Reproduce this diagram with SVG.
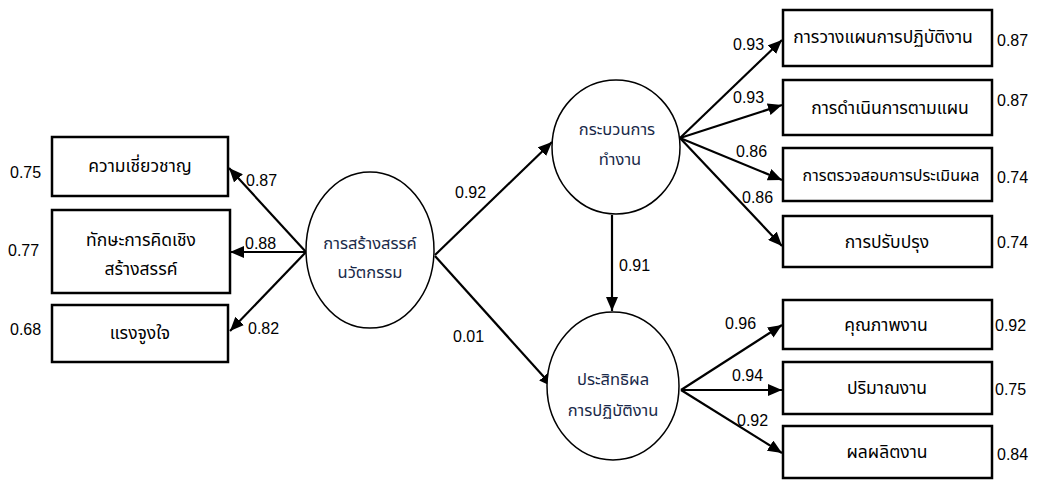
<svg xmlns="http://www.w3.org/2000/svg" width="1037" height="481" viewBox="0 0 1037 481">
<defs>
<marker id="ah" markerWidth="14" markerHeight="12" refX="14" refY="6" orient="auto" markerUnits="userSpaceOnUse"><path d="M0,0 L14,6 L0,12 Z" fill="#000"/></marker>
<style>
.box{fill:#fff;stroke:#000;stroke-width:2.5}
.ell{fill:#fff;stroke:#000;stroke-width:1.5}
.ln{stroke:#000;stroke-width:2.2;fill:none;marker-end:url(#ah)}
.th{font-family:Tahoma,"Noto Sans","Noto Sans Thai","DejaVu Sans",sans-serif;font-size:17.5px;fill:#000;text-anchor:middle}
.thb{font-family:Tahoma,"Noto Sans","Noto Sans Thai","DejaVu Sans",sans-serif;font-size:16.5px;fill:#1a2a4a;text-anchor:middle}
.num{font-family:"Liberation Sans",Arial,sans-serif;font-size:16px;fill:#000}
</style>
</defs>
<rect width="1037" height="481" fill="#fff"/>
<g id="connectors">
<line class="ln" x1="306" y1="252" x2="229" y2="168"/>
<line class="ln" x1="306" y1="252" x2="230" y2="252"/>
<line class="ln" x1="306" y1="252" x2="230" y2="331"/>
<line class="ln" x1="435" y1="255" x2="552" y2="142"/>
<line class="ln" x1="435" y1="256" x2="553" y2="387"/>
<line class="ln" x1="612" y1="215" x2="612" y2="311"/>
<line class="ln" x1="680" y1="138" x2="782" y2="40"/>
<line class="ln" x1="680" y1="138" x2="782" y2="105"/>
<line class="ln" x1="680" y1="138" x2="782" y2="180"/>
<line class="ln" x1="680" y1="138" x2="782" y2="246"/>
<line class="ln" x1="681" y1="390" x2="782" y2="325"/>
<line class="ln" x1="681" y1="390" x2="782" y2="390"/>
<line class="ln" x1="681" y1="390" x2="782" y2="453"/>
</g>
<g id="n_expert"><rect class="box" x="52" y="137" width="176" height="59"/><text class="th" x="140" y="172">ความเชี่ยวชาญ</text></g>
<g id="n_skill"><rect class="box" x="52" y="210" width="178" height="83"/><text class="th" x="141" y="246">ทักษะการคิดเชิง</text><text class="th" x="141" y="275">สร้างสรรค์</text></g>
<g id="n_motiv"><rect class="box" x="52" y="305" width="176" height="57"/><text class="th" x="140" y="339">แรงจูงใจ</text></g>
<g id="n_innov"><ellipse class="ell" cx="370" cy="250" rx="64" ry="78"/><text class="thb" x="370" y="249">การสร้างสรรค์</text><text class="thb" x="370" y="278">นวัตกรรม</text></g>
<g id="n_process"><ellipse class="ell" cx="616" cy="147" rx="64" ry="67"/><text class="thb" x="617" y="135">กระบวนการ</text><text class="thb" x="620" y="165">ทำงาน</text></g>
<g id="n_perf"><ellipse class="ell" cx="613" cy="386" rx="66" ry="74"/><text class="thb" x="613" y="385">ประสิทธิผล</text><text class="thb" x="613" y="416">การปฏิบัติงาน</text></g>
<g id="n_plan"><rect class="box" x="783" y="10" width="209" height="56"/><text class="th" x="883" y="43">การวางแผนการปฏิบัติงาน</text></g>
<g id="n_do"><rect class="box" x="783" y="80" width="209" height="55"/><text class="th" x="890" y="114">การดำเนินการตามแผน</text></g>
<g id="n_check"><rect class="box" x="783" y="148" width="209" height="53"/><text class="th" x="891" y="181" style="font-size:16px">การตรวจสอบการประเมินผล</text></g>
<g id="n_improve"><rect class="box" x="783" y="216" width="209" height="51"/><text class="th" x="887" y="248">การปรับปรุง</text></g>
<g id="n_quality"><rect class="box" x="783" y="300" width="209" height="49"/><text class="th" x="886" y="331">คุณภาพงาน</text></g>
<g id="n_quantity"><rect class="box" x="783" y="362" width="209" height="52"/><text class="th" x="887" y="394">ปริมาณงาน</text></g>
<g id="n_output"><rect class="box" x="783" y="426" width="209" height="52"/><text class="th" x="887" y="458">ผลผลิตงาน</text></g>
<g id="labels">
<text class="num" x="10" y="178">0.75</text>
<text class="num" x="8" y="256">0.77</text>
<text class="num" x="10" y="335">0.68</text>
<text class="num" x="246" y="186">0.87</text>
<text class="num" x="245" y="249">0.88</text>
<text class="num" x="248" y="334">0.82</text>
<text class="num" x="455" y="198">0.92</text>
<text class="num" x="453" y="342">0.01</text>
<text class="num" x="619" y="271">0.91</text>
<text class="num" x="733" y="50">0.93</text>
<text class="num" x="733" y="103">0.93</text>
<text class="num" x="736" y="157">0.86</text>
<text class="num" x="742" y="203">0.86</text>
<text class="num" x="725" y="329">0.96</text>
<text class="num" x="732" y="381">0.94</text>
<text class="num" x="737" y="426">0.92</text>
<text class="num" x="997" y="46">0.87</text>
<text class="num" x="997" y="106">0.87</text>
<text class="num" x="997" y="183">0.74</text>
<text class="num" x="997" y="248">0.74</text>
<text class="num" x="995" y="331">0.92</text>
<text class="num" x="995" y="395">0.75</text>
<text class="num" x="997" y="460">0.84</text>
</g>
</svg>
